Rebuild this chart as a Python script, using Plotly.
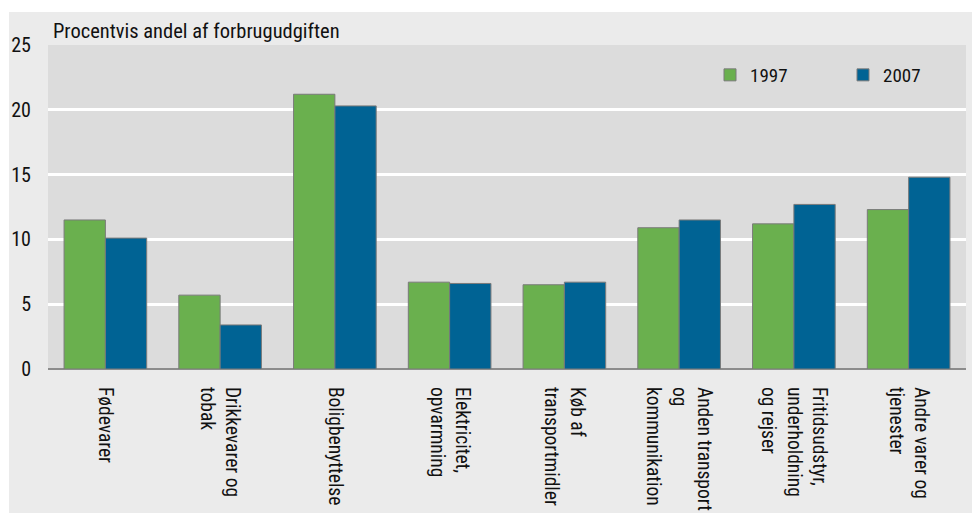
import plotly.graph_objects as go

categories = [
    "Fødevarer",
    "Drikkevarer og<br>tobak",
    "Boligbenyttelse",
    "Elektricitet,<br>opvarmning",
    "Køb af<br>transportmidler",
    "Anden transport<br>og<br>kommunikation",
    "Fritidsudstyr,<br>underholdning<br>og rejser",
    "Andre varer og<br>tjenester",
]
series_names = ["1997", "2007"]
values_1997 = [11.5, 5.7, 21.2, 6.7, 6.5, 10.9, 11.2, 12.3]
values_2007 = [10.1, 3.4, 20.3, 6.6, 6.7, 11.5, 12.7, 14.8]
y_ticks = [0, 5, 10, 15, 20, 25]
title_text = "Procentvis andel af forbrugudgiften"

FONT = "Liberation Sans Narrow, Roboto Condensed, Roboto, sans-serif"
GREEN = "#6ab04e"
BLUE = "#006394"

W, H = 980, 513
ML, MR, MT, MB = 40, 22, 37, 152
pw = W - ML - MR
ph = H - MT - MB

fig = go.Figure()
for name, vals, col in [(series_names[0], values_1997, GREEN), (series_names[1], values_2007, BLUE)]:
    fig.add_trace(go.Bar(
        x=list(range(len(categories))), y=vals, name=name,
        marker=dict(color=col, line=dict(color="#7a7a7a", width=1)),
    ))

def px_x(p):
    return (p - ML) / pw

def px_y(p):
    return (H - MB - p) / ph

shapes = [
    dict(type="rect", xref="paper", yref="paper", layer="above",
         x0=px_x(0), x1=px_x(W), y0=px_y(4), y1=px_y(0),
         fillcolor="white", line=dict(width=0)),
    dict(type="rect", xref="paper", yref="paper", layer="above",
         x0=px_x(0), x1=px_x(1), y0=px_y(H), y1=px_y(0),
         fillcolor="white", line=dict(width=0)),
]

fig.update_layout(
    width=W, height=H,
    margin=dict(l=ML, r=MR, t=MT, b=MB, autoexpand=False),
    paper_bgcolor="#ebebeb",
    plot_bgcolor="#dcdcdc",
    barmode="group",
    bargap=0.28,
    bargroupgap=0,
    font=dict(family=FONT, size=19, color="#111111"),
    title=dict(text=title_text, xref="container", yref="container",
               x=45 / W, xanchor="left", y=1 - 23 / H, yanchor="middle",
               font=dict(family=FONT, size=20.5, color="#111111")),
    legend=dict(orientation="h", x=px_x(702), xanchor="left",
                y=px_y(67), yanchor="middle", bgcolor="rgba(0,0,0,0)",
                entrywidth=88, entrywidthmode="pixels",
                font=dict(family=FONT, size=19, color="#111111")),
    shapes=shapes,
    xaxis=dict(
        tickmode="array", tickvals=list(range(len(categories))), ticktext=categories,
        tickangle=90, showgrid=False, showline=False, zeroline=False,
        ticks="outside", ticklen=13, tickcolor="rgba(0,0,0,0)",
        range=[-0.5, len(categories) - 0.5], automargin=False,
        tickfont=dict(family=FONT, size=19.5, color="#111111"),
    ),
    yaxis=dict(
        range=[0, 25], tickvals=y_ticks, showgrid=True, gridcolor="white", gridwidth=2.5,
        zeroline=True, zerolinecolor="#8c8c8c", zerolinewidth=1.5,
        showline=False, ticks="", ticklabelstandoff=16, automargin=False,
        tickfont=dict(family=FONT, size=20, color="#111111"),
    ),
)

fig.write_html("out.html")
